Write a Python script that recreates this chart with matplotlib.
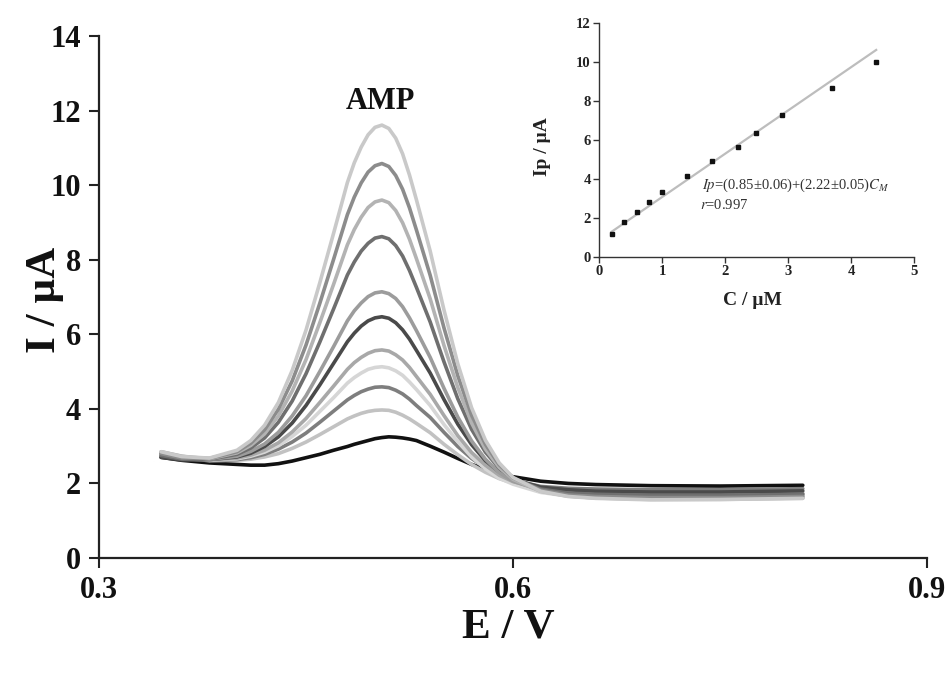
import matplotlib
matplotlib.use("Agg")
import matplotlib.pyplot as plt

plt.rcParams['font.family'] = ['Liberation Serif', 'DejaVu Serif']
plt.rcParams['mathtext.fontset'] = 'stix'

# ---------------- data: voltammograms ----------------
E = [0.345, 0.36, 0.38, 0.40, 0.41, 0.42, 0.43, 0.44, 0.45, 0.46, 0.47, 0.48, 0.485, 0.49,
     0.495, 0.50, 0.505, 0.51, 0.515, 0.52, 0.525, 0.53, 0.54, 0.55, 0.56, 0.57, 0.58, 0.59,
     0.60, 0.62, 0.64, 0.66, 0.70, 0.75, 0.81]

c1 = [2.85, 2.72, 2.68, 2.89, 3.15, 3.56, 4.17, 5.03, 6.11, 7.38, 8.71, 10.07, 10.60, 11.02,
      11.35, 11.55, 11.61, 11.52, 11.26, 10.84, 10.27, 9.61, 8.23, 6.65, 5.21, 4.03, 3.16,
      2.55, 2.16, 1.79, 1.65, 1.60, 1.56, 1.57, 1.60]
c2 = [2.80, 2.68, 2.67, 2.85, 3.08, 3.44, 3.99, 4.75, 5.71, 6.83, 8.01, 9.21, 9.68, 10.06,
      10.35, 10.52, 10.58, 10.50, 10.26, 9.89, 9.39, 8.80, 7.58, 6.17, 4.89, 3.83, 3.05,
      2.50, 2.15, 1.82, 1.69, 1.65, 1.62, 1.62, 1.65]
c3 = [2.85, 2.73, 2.66, 2.82, 3.02, 3.33, 3.81, 4.48, 5.32, 6.31, 7.34, 8.40, 8.81, 9.14,
      9.40, 9.55, 9.60, 9.53, 9.32, 8.99, 8.55, 8.03, 6.95, 5.70, 4.57, 3.62, 2.92, 2.43,
      2.11, 1.79, 1.66, 1.61, 1.58, 1.58, 1.61]
c4 = [2.75, 2.65, 2.65, 2.78, 2.95, 3.22, 3.64, 4.21, 4.94, 5.79, 6.68, 7.59, 7.94, 8.23,
      8.44, 8.58, 8.62, 8.56, 8.38, 8.10, 7.71, 7.26, 6.33, 5.26, 4.27, 3.45, 2.84, 2.41,
      2.13, 1.85, 1.74, 1.71, 1.68, 1.68, 1.71]
c5 = [2.80, 2.69, 2.64, 2.73, 2.86, 3.06, 3.37, 3.81, 4.35, 5.00, 5.67, 6.36, 6.63, 6.84,
      7.01, 7.11, 7.14, 7.09, 6.96, 6.74, 6.44, 6.10, 5.38, 4.55, 3.78, 3.14, 2.65, 2.29,
      2.06, 1.82, 1.71, 1.67, 1.64, 1.64, 1.67]
c6 = [2.70, 2.63, 2.64, 2.71, 2.81, 2.99, 3.25, 3.62, 4.09, 4.64, 5.22, 5.80, 6.03, 6.22,
      6.36, 6.44, 6.47, 6.43, 6.31, 6.12, 5.87, 5.57, 4.96, 4.25, 3.59, 3.04, 2.61, 2.31,
      2.11, 1.90, 1.83, 1.79, 1.77, 1.77, 1.80]
c7 = [2.80, 2.69, 2.63, 2.68, 2.76, 2.89, 3.09, 3.38, 3.74, 4.17, 4.61, 5.06, 5.24, 5.38,
      5.49, 5.56, 5.58, 5.55, 5.45, 5.31, 5.11, 4.87, 4.39, 3.82, 3.28, 2.83, 2.49, 2.22,
      2.05, 1.85, 1.76, 1.72, 1.69, 1.69, 1.72]
c8 = [2.85, 2.73, 2.62, 2.66, 2.73, 2.84, 3.01, 3.26, 3.56, 3.93, 4.30, 4.69, 4.84, 4.96,
      5.06, 5.11, 5.13, 5.10, 5.02, 4.90, 4.72, 4.52, 4.09, 3.58, 3.12, 2.71, 2.39, 2.14,
      1.98, 1.76, 1.66, 1.61, 1.57, 1.57, 1.60]
c9 = [2.75, 2.65, 2.62, 2.64, 2.69, 2.78, 2.92, 3.11, 3.35, 3.64, 3.94, 4.24, 4.36, 4.46,
      4.53, 4.58, 4.59, 4.57, 4.50, 4.40, 4.26, 4.09, 3.77, 3.37, 2.99, 2.67, 2.42, 2.22,
      2.09, 1.92, 1.87, 1.85, 1.83, 1.83, 1.86]
c10 = [2.80, 2.68, 2.61, 2.62, 2.65, 2.71, 2.80, 2.94, 3.11, 3.31, 3.52, 3.73, 3.81, 3.88,
       3.93, 3.96, 3.97, 3.96, 3.91, 3.83, 3.73, 3.61, 3.36, 3.05, 2.77, 2.51, 2.30, 2.13,
       2.01, 1.85, 1.77, 1.73, 1.71, 1.71, 1.74]
c11 = [2.70, 2.62, 2.55, 2.51, 2.49, 2.49, 2.53, 2.60, 2.69, 2.78, 2.89, 2.99, 3.05, 3.10,
       3.15, 3.20, 3.23, 3.25, 3.24, 3.22, 3.19, 3.15, 3.00, 2.84, 2.67, 2.51, 2.38, 2.27,
       2.18, 2.06, 2.00, 1.97, 1.94, 1.93, 1.95]

curves = [c1, c2, c3, c4, c5, c6, c7, c8, c9, c10, c11]
colors = ['#c9c9c9', '#8c8c8c', '#b3b3b3', '#6f6f6f', '#9c9c9c', '#4a4a4a',
          '#a8a8a8', '#d6d6d6', '#7e7e7e', '#c2c2c2', '#111111']

# ---------------- data: calibration inset ----------------
conc = [0.2, 0.4, 0.6, 0.8, 1.0, 1.4, 1.8, 2.2, 2.5, 2.9, 3.7, 4.4]
ip = [1.16, 1.78, 2.31, 2.84, 3.35, 4.14, 4.94, 5.62, 6.38, 7.26, 8.65, 10.02]
intercept = 0.85
slope = 2.22

# ---------------- figure ----------------
fig = plt.figure(figsize=(9.5, 6.74), dpi=100)
ax = fig.add_axes([0.1042, 0.1721, 0.8716, 0.7745])

for y, col in reversed(list(zip(curves, colors))):
    ax.plot(E, y, color=col, lw=2.6, solid_capstyle='round', solid_joinstyle='round')

ax.set_xlim(0.3, 0.9)
ax.set_ylim(0, 14)
ax.set_xticks([0.3, 0.6, 0.9])
ax.set_xticklabels(['0.3', '0.6', '0.9'])
ax.set_yticks(range(0, 15, 2))
for s in ['top', 'right']:
    ax.spines[s].set_visible(False)
for s in ['left', 'bottom']:
    ax.spines[s].set_linewidth(1.6)
    ax.spines[s].set_color('#222222')
ax.tick_params(direction='out', length=7, width=1.5, color='#222222', pad=6)
for lab in ax.get_xticklabels() + ax.get_yticklabels():
    lab.set_fontsize(22)
    lab.set_fontweight('bold')
    lab.set_color('#111111')

ax.set_xlabel('E / V', fontsize=31, fontweight='bold', va='center', color='#111111')
ax.xaxis.set_label_coords(0.494, -0.134)
ax.set_ylabel('I / µA', fontsize=31, fontweight='bold', va='center', color='#111111')
ax.yaxis.set_label_coords(-0.065, 0.494)

ax.text(0.5043, 12.23, 'AMP', fontsize=22, fontweight='bold', ha='center', va='center',
        color='#111111')

# ---------------- inset ----------------
ins = fig.add_axes([0.6305, 0.6187, 0.3316, 0.3472])
ins.plot([conc[0], conc[-1]], [intercept + slope * conc[0], intercept + slope * conc[-1]],
         color='#bdbdbd', lw=1.6, zorder=1)
ins.plot(conc, ip, ls='none', marker='s', ms=3, color='#111111', zorder=2)
ins.set_xlim(0, 5)
ins.set_ylim(0, 12)
ins.set_xticks(range(0, 6))
ins.set_yticks(range(0, 13, 2))
for s in ['top', 'right']:
    ins.spines[s].set_visible(False)
for s in ['left', 'bottom']:
    ins.spines[s].set_linewidth(1.0)
    ins.spines[s].set_color('#333333')
ins.tick_params(direction='out', length=4, width=1.0, color='#333333', pad=2)
for lab in ins.get_xticklabels() + ins.get_yticklabels():
    lab.set_fontsize(10.5)
    lab.set_fontweight('bold')
    lab.set_color('#222222')
ins.set_xlabel('C / µM', fontsize=14, fontweight='bold', va='center', color='#222222')
ins.xaxis.set_label_coords(0.486, -0.188)
ins.set_ylabel('Ip / µA', fontsize=14, fontweight='bold', va='center', color='#222222')
ins.yaxis.set_label_coords(-0.178, 0.47)
ins.text(1.63, 3.69, r'$Ip$=(0.85±0.06)+(2.22±0.05)$C_M$', fontsize=10.5, color='#333333',
         va='center', ha='left')
ins.text(1.6, 2.67, r'$r$=0.997', fontsize=10.5, color='#333333', va='center', ha='left')

fig.savefig('out.png', dpi=100)
